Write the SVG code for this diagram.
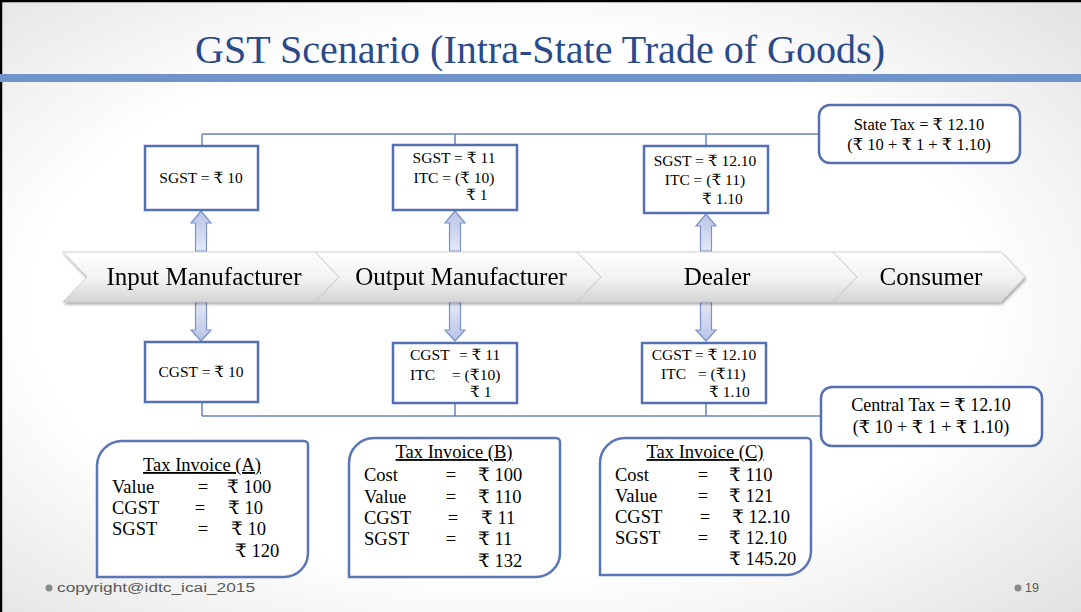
<svg xmlns="http://www.w3.org/2000/svg" width="1081" height="612" viewBox="0 0 1081 612">
<defs>
  <radialGradient id="bg" cx="0.47" cy="0.5" r="0.8">
    <stop offset="0.55" stop-color="#ffffff"/>
    <stop offset="1" stop-color="#dadada"/>
  </radialGradient>
  <linearGradient id="chev" x1="0" y1="0" x2="0" y2="1">
    <stop offset="0" stop-color="#ffffff"/>
    <stop offset="0.55" stop-color="#f1f1f1"/>
    <stop offset="1" stop-color="#d4d4d4"/>
  </linearGradient>
  <linearGradient id="arUp" x1="0" y1="0" x2="0" y2="1">
    <stop offset="0" stop-color="#b7c4e6"/>
    <stop offset="1" stop-color="#e4e9f6"/>
  </linearGradient>
  <linearGradient id="arDn" x1="0" y1="0" x2="0" y2="1">
    <stop offset="0" stop-color="#e4e9f6"/>
    <stop offset="1" stop-color="#b7c4e6"/>
  </linearGradient>
  <filter id="sh" x="-5%" y="-20%" width="110%" height="150%">
    <feGaussianBlur in="SourceAlpha" stdDeviation="1.5"/>
    <feOffset dx="1" dy="2" result="b"/>
    <feComponentTransfer><feFuncA type="linear" slope="0.35"/></feComponentTransfer>
    <feMerge><feMergeNode/><feMergeNode in="SourceGraphic"/></feMerge>
  </filter>
  <style>
    .t { font-family: "Liberation Serif", "DejaVu Serif", serif; fill: #000; }
    .box { fill: #fff; stroke: #5470b3; stroke-width: 2.5; }
    .inv { fill: #fff; stroke: #5a76b8; stroke-width: 2.5; }
    .ln { stroke: #6683c2; stroke-width: 1.5; fill: none; }
    .chev { fill: url(#chev); stroke: #c4c4c4; stroke-width: 0.8; }
    .aup { fill: url(#arUp); stroke: #7b91c9; stroke-width: 1.2; }
    .adn { fill: url(#arDn); stroke: #7b91c9; stroke-width: 1.2; }
    .bx { font-size: 15.5px; }
    .iv { font-size: 18.5px; }
    .ch { font-size: 25px; text-anchor: middle; }
    .foot { font-family: "Liberation Sans", "DejaVu Sans", sans-serif; font-size: 12.5px; fill: #595959; }
  </style>
</defs>

<!-- background -->
<rect x="0" y="0" width="1081" height="612" fill="url(#bg)"/>
<path d="M1,612 V1 H1081" fill="none" stroke="#000" stroke-width="2.5"/>
<text x="540" y="63" text-anchor="middle" font-family="Liberation Serif, DejaVu Serif, serif" font-size="40" fill="#2a4a8a" textLength="690" lengthAdjust="spacingAndGlyphs">GST Scenario (Intra-State Trade of Goods)</text>
<rect x="0" y="74" width="1081" height="8" fill="#6f93ca"/>

<!-- connectors -->
<g id="connectors">
  <path class="ln" d="M202,134 H819 M202,134 V146 M455,134 V145 M706,134 V146"/>
  <path class="ln" d="M202,416 H821 M202,402 V416 M455,403 V416 M706,403 V416"/>
  <path class="aup" d="M201,211 L211,223 L206.5,223 L206.5,251 L195.5,251 L195.5,223 L191,223 Z"/>
  <path class="aup" d="M455,211 L465,223 L460.5,223 L460.5,251 L449.5,251 L449.5,223 L445,223 Z"/>
  <path class="aup" d="M706,214 L716,226 L711.5,226 L711.5,251 L700.5,251 L700.5,226 L696,226 Z"/>
  <path class="adn" d="M195.5,302 H206.5 V330 H211 L201,341 L191,330 H195.5 Z"/>
  <path class="adn" d="M449.5,302 H460.5 V330 H465 L455,341 L445,330 H449.5 Z"/>
  <path class="adn" d="M700.5,302 H711.5 V330 H716 L706,341 L696,330 H700.5 Z"/>
</g>

<!-- chevrons -->
<g id="chevrons" filter="url(#sh)">
  <g id="consumer">
    <path class="chev" d="M833,252 H1001 L1025,277 L1001,302 H833 L857,277 Z"/>
    <text class="t ch" x="931" y="285">Consumer</text>
  </g>
  <g id="dealer">
    <path class="chev" d="M577,252 H833 L857,277 L833,302 H577 L601,277 Z"/>
    <text class="t ch" x="717" y="285">Dealer</text>
  </g>
  <g id="output-manufacturer">
    <path class="chev" d="M315,252 H577 L601,277 L577,302 H315 L339,277 Z"/>
    <text class="t ch" x="461" y="285">Output Manufacturer</text>
  </g>
  <g id="input-manufacturer">
    <path class="chev" d="M63,252 H315 L339,277 L315,302 H63 L87,277 Z"/>
    <text class="t ch" x="204" y="285">Input Manufacturer</text>
  </g>
</g>

<!-- top boxes -->
<g id="sgst1">
  <rect class="box" x="145" y="146" width="113" height="64"/>
  <text class="t bx" x="201" y="183" text-anchor="middle">SGST = ₹ 10</text>
</g>
<g id="sgst2">
  <rect class="box" x="393" y="145" width="124" height="65"/>
  <text class="t bx" x="454" y="163" text-anchor="middle">SGST = ₹ 11</text>
  <text class="t bx" x="454" y="183" text-anchor="middle">ITC = (₹ 10)</text>
  <text class="t bx" x="466" y="200">₹ 1</text>
</g>
<g id="sgst3">
  <rect class="box" x="644" y="146" width="124" height="67"/>
  <text class="t bx" x="705" y="166" text-anchor="middle">SGST = ₹ 12.10</text>
  <text class="t bx" x="705" y="185" text-anchor="middle">ITC = (₹ 11)</text>
  <text class="t bx" x="702" y="204">₹ 1.10</text>
</g>
<g id="state-tax">
  <rect class="box" x="819" y="105" width="201" height="58" rx="11"/>
  <text class="t" font-size="16.5" x="919" y="130" text-anchor="middle">State Tax = ₹ 12.10</text>
  <text class="t" font-size="16.5" x="919" y="150" text-anchor="middle">(₹ 10 + ₹ 1 + ₹ 1.10)</text>
</g>

<!-- bottom boxes -->
<g id="cgst1">
  <rect class="box" x="145" y="342" width="113" height="60"/>
  <text class="t bx" x="201" y="377" text-anchor="middle">CGST = ₹ 10</text>
</g>
<g id="cgst2">
  <rect class="box" x="393" y="343" width="124" height="60"/>
  <text class="t bx" x="410" y="360">CGST</text>
  <text class="t bx" x="459" y="360">= ₹ 11</text>
  <text class="t bx" x="410" y="380">ITC</text>
  <text class="t bx" x="452" y="380">= (₹10)</text>
  <text class="t bx" x="470" y="397">₹ 1</text>
</g>
<g id="cgst3">
  <rect class="box" x="642" y="343" width="124" height="60"/>
  <text class="t bx" x="704" y="360" text-anchor="middle">CGST = ₹ 12.10</text>
  <text class="t bx" x="661" y="379">ITC</text>
  <text class="t bx" x="698" y="379">= (₹11)</text>
  <text class="t bx" x="709" y="397">₹ 1.10</text>
</g>
<g id="central-tax">
  <rect class="box" x="821" y="387" width="221" height="59" rx="11"/>
  <text class="t" font-size="18" x="931" y="411" text-anchor="middle">Central Tax = ₹ 12.10</text>
  <text class="t" font-size="18" x="931" y="433" text-anchor="middle">(₹ 10 + ₹ 1 + ₹ 1.10)</text>
</g>

<!-- invoices -->
<g id="invoice-a">
  <path class="inv" d="M122,441 H304 A4,4 0 0 1 308,445 V553 A24,24 0 0 1 284,577 H97 V466 A25,25 0 0 1 122,441 Z"/>
  <text class="t iv" x="202" y="471" text-anchor="middle" text-decoration="underline">Tax Invoice (A)</text>
  <text class="t iv" x="112" y="493">Value</text>
  <text class="t iv" x="203" y="493" text-anchor="middle">=</text>
  <text class="t iv" x="227" y="493">₹ 100</text>
  <text class="t iv" x="112" y="514">CGST</text>
  <text class="t iv" x="200" y="514" text-anchor="middle">=</text>
  <text class="t iv" x="228" y="514">₹ 10</text>
  <text class="t iv" x="112" y="535">SGST</text>
  <text class="t iv" x="203" y="535" text-anchor="middle">=</text>
  <text class="t iv" x="231" y="535">₹ 10</text>
  <text class="t iv" x="235" y="557">₹ 120</text>
</g>
<g id="invoice-b">
  <path class="inv" d="M374,438 H556 A4,4 0 0 1 560,442 V553 A24,24 0 0 1 536,577 H349 V463 A25,25 0 0 1 374,438 Z"/>
  <text class="t iv" x="454" y="458" text-anchor="middle" text-decoration="underline">Tax Invoice (B)</text>
  <text class="t iv" x="364" y="481">Cost</text>
  <text class="t iv" x="451" y="481" text-anchor="middle">=</text>
  <text class="t iv" x="478" y="481">₹ 100</text>
  <text class="t iv" x="364" y="503">Value</text>
  <text class="t iv" x="451" y="503" text-anchor="middle">=</text>
  <text class="t iv" x="478" y="503">₹ 110</text>
  <text class="t iv" x="364" y="524">CGST</text>
  <text class="t iv" x="453" y="524" text-anchor="middle">=</text>
  <text class="t iv" x="481" y="524">₹ 11</text>
  <text class="t iv" x="364" y="545">SGST</text>
  <text class="t iv" x="451" y="545" text-anchor="middle">=</text>
  <text class="t iv" x="478" y="545">₹ 11</text>
  <text class="t iv" x="478" y="567">₹ 132</text>
</g>
<g id="invoice-c">
  <path class="inv" d="M625,438 H807 A4,4 0 0 1 811,442 V551 A24,24 0 0 1 787,575 H600 V463 A25,25 0 0 1 625,438 Z"/>
  <text class="t iv" x="705" y="458" text-anchor="middle" text-decoration="underline">Tax Invoice (C)</text>
  <text class="t iv" x="615" y="481">Cost</text>
  <text class="t iv" x="703" y="481" text-anchor="middle">=</text>
  <text class="t iv" x="729" y="481">₹ 110</text>
  <text class="t iv" x="615" y="502">Value</text>
  <text class="t iv" x="703" y="502" text-anchor="middle">=</text>
  <text class="t iv" x="729" y="502">₹ 121</text>
  <text class="t iv" x="615" y="523">CGST</text>
  <text class="t iv" x="705" y="523" text-anchor="middle">=</text>
  <text class="t iv" x="732" y="523">₹ 12.10</text>
  <text class="t iv" x="615" y="544">SGST</text>
  <text class="t iv" x="703" y="544" text-anchor="middle">=</text>
  <text class="t iv" x="729" y="544">₹ 12.10</text>
  <text class="t iv" x="729" y="565">₹ 145.20</text>
</g>

<!-- footer -->
<circle cx="49" cy="588" r="3.5" fill="#8a8a8a"/>
<text class="foot" x="57" y="592" textLength="198" lengthAdjust="spacingAndGlyphs">copyright@idtc_icai_2015</text>
<circle cx="1018" cy="588" r="3.5" fill="#8a8a8a"/>
<text class="foot" x="1025" y="592">19</text>
</svg>
